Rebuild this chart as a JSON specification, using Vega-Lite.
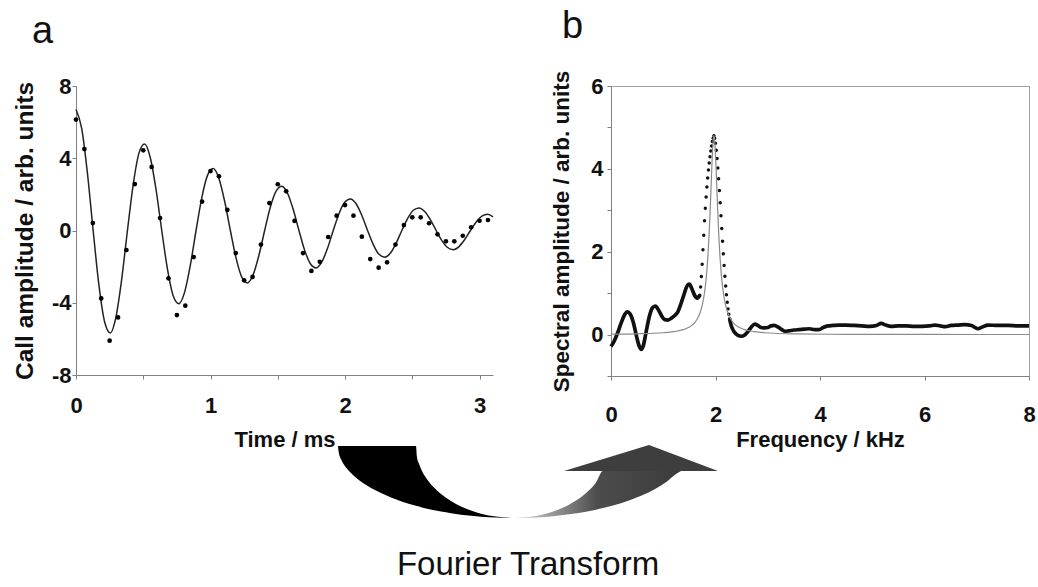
{
  "$schema": "https://vega.github.io/schema/vega-lite/v6.json",
  "background": "white",
  "padding": {"left": 12, "top": 7, "right": 4, "bottom": 2},
  "config": {
    "view": {"stroke": null},
    "font": "Liberation Sans",
    "axis": {
      "grid": false,
      "labelFont": "Liberation Sans",
      "titleFont": "Liberation Sans",
      "labelFontWeight": "bold",
      "titleFontWeight": "bold",
      "labelFontSize": 22,
      "titleFontSize": 22,
      "labelColor": "#111",
      "titleColor": "#111",
      "domainColor": "#808080",
      "tickColor": "#808080",
      "tickSize": 4,
      "labelFlush": false,
      "labelOverlap": false
    }
  },
  "datasets": {
    "aFit": [
      {"t": 0, "v": 6.70}, {"t": 0.0425, "v": 5.64}, {"t": 0.085, "v": 3.17}, {"t": 0.1275, "v": 0},
      {"t": 0.17, "v": -3.00}, {"t": 0.2125, "v": -5.05}, {"t": 0.255, "v": -5.67}, {"t": 0.2975, "v": -4.77},
      {"t": 0.34, "v": -2.68}, {"t": 0.3825, "v": 0}, {"t": 0.425, "v": 2.53}, {"t": 0.4675, "v": 4.27},
      {"t": 0.51, "v": 4.79}, {"t": 0.5525, "v": 4.03}, {"t": 0.595, "v": 2.27}, {"t": 0.6375, "v": 0},
      {"t": 0.68, "v": -2.14}, {"t": 0.7225, "v": -3.61}, {"t": 0.765, "v": -4.05}, {"t": 0.8075, "v": -3.41},
      {"t": 0.85, "v": -1.92}, {"t": 0.8925, "v": 0}, {"t": 0.935, "v": 1.81}, {"t": 0.9775, "v": 3.05},
      {"t": 1.02, "v": 3.43}, {"t": 1.0625, "v": 2.88}, {"t": 1.105, "v": 1.62}, {"t": 1.1475, "v": 0},
      {"t": 1.19, "v": -1.53}, {"t": 1.2325, "v": -2.58}, {"t": 1.275, "v": -2.90}, {"t": 1.3175, "v": -2.44},
      {"t": 1.36, "v": -1.37}, {"t": 1.4025, "v": 0}, {"t": 1.445, "v": 1.30}, {"t": 1.4875, "v": 2.18},
      {"t": 1.53, "v": 2.45}, {"t": 1.5725, "v": 2.06}, {"t": 1.615, "v": 1.16}, {"t": 1.6575, "v": 0},
      {"t": 1.70, "v": -1.10}, {"t": 1.7425, "v": -1.84}, {"t": 1.785, "v": -2.07}, {"t": 1.8275, "v": -1.74},
      {"t": 1.87, "v": -0.98}, {"t": 1.9125, "v": 0}, {"t": 1.955, "v": 0.93}, {"t": 1.9975, "v": 1.56},
      {"t": 2.04, "v": 1.75}, {"t": 2.0825, "v": 1.48}, {"t": 2.125, "v": 0.83}, {"t": 2.1675, "v": 0},
      {"t": 2.21, "v": -0.78}, {"t": 2.2525, "v": -1.32}, {"t": 2.295, "v": -1.48}, {"t": 2.3375, "v": -1.25},
      {"t": 2.38, "v": -0.70}, {"t": 2.4225, "v": 0}, {"t": 2.465, "v": 0.66}, {"t": 2.5075, "v": 1.12},
      {"t": 2.55, "v": 1.25}, {"t": 2.5925, "v": 1.05}, {"t": 2.635, "v": 0.59}, {"t": 2.6775, "v": 0},
      {"t": 2.72, "v": -0.56}, {"t": 2.7625, "v": -0.94}, {"t": 2.805, "v": -1.06}, {"t": 2.8475, "v": -0.89},
      {"t": 2.89, "v": -0.50}, {"t": 2.9325, "v": 0}, {"t": 2.975, "v": 0.47}, {"t": 3.0175, "v": 0.80},
      {"t": 3.06, "v": 0.90}, {"t": 3.1, "v": 0.76}
    ],
    "aPts": [
      {"t": 0, "v": 6.14}, {"t": 0.0625, "v": 4.51}, {"t": 0.125, "v": 0.41}, {"t": 0.1875, "v": -3.76},
      {"t": 0.25, "v": -6.10}, {"t": 0.3125, "v": -4.81}, {"t": 0.375, "v": -1.08}, {"t": 0.4375, "v": 2.57},
      {"t": 0.5, "v": 4.44}, {"t": 0.5625, "v": 3.52}, {"t": 0.625, "v": 0.69}, {"t": 0.6875, "v": -2.65},
      {"t": 0.75, "v": -4.68}, {"t": 0.8125, "v": -4.16}, {"t": 0.875, "v": -1.47}, {"t": 0.9375, "v": 1.60},
      {"t": 1.0, "v": 3.29}, {"t": 1.0625, "v": 3.00}, {"t": 1.125, "v": 1.14}, {"t": 1.1875, "v": -1.25},
      {"t": 1.25, "v": -2.76}, {"t": 1.3125, "v": -2.57}, {"t": 1.375, "v": -0.78}, {"t": 1.4375, "v": 1.52},
      {"t": 1.5, "v": 2.56}, {"t": 1.5625, "v": 2.17}, {"t": 1.625, "v": 0.53}, {"t": 1.6875, "v": -1.25},
      {"t": 1.75, "v": -2.24}, {"t": 1.8125, "v": -1.73}, {"t": 1.875, "v": -0.36}, {"t": 1.9375, "v": 0.82},
      {"t": 2.0, "v": 1.41}, {"t": 2.0625, "v": 0.82}, {"t": 2.125, "v": -0.34}, {"t": 2.1875, "v": -1.58},
      {"t": 2.25, "v": -2.06}, {"t": 2.3125, "v": -1.76}, {"t": 2.375, "v": -0.78}, {"t": 2.4375, "v": 0.30},
      {"t": 2.5, "v": 0.73}, {"t": 2.5625, "v": 0.73}, {"t": 2.625, "v": 0.40}, {"t": 2.6875, "v": -0.21},
      {"t": 2.75, "v": -0.60}, {"t": 2.8125, "v": -0.60}, {"t": 2.875, "v": -0.29}, {"t": 2.9375, "v": 0.18},
      {"t": 3.0, "v": 0.54}, {"t": 3.0625, "v": 0.58}
    ],
    "bLo": [
      {"f": 0, "v": -0.29}, {"f": 0.06, "v": -0.16}, {"f": 0.13, "v": 0.05}, {"f": 0.2, "v": 0.30},
      {"f": 0.26, "v": 0.48}, {"f": 0.31, "v": 0.55}, {"f": 0.37, "v": 0.49}, {"f": 0.43, "v": 0.28},
      {"f": 0.49, "v": -0.05}, {"f": 0.54, "v": -0.28}, {"f": 0.58, "v": -0.36}, {"f": 0.62, "v": -0.26},
      {"f": 0.67, "v": 0.05}, {"f": 0.73, "v": 0.42}, {"f": 0.79, "v": 0.64}, {"f": 0.85, "v": 0.69},
      {"f": 0.91, "v": 0.59}, {"f": 0.97, "v": 0.45}, {"f": 1.03, "v": 0.36}, {"f": 1.09, "v": 0.35},
      {"f": 1.16, "v": 0.40}, {"f": 1.22, "v": 0.46}, {"f": 1.28, "v": 0.55}, {"f": 1.34, "v": 0.75},
      {"f": 1.40, "v": 0.98}, {"f": 1.45, "v": 1.16}, {"f": 1.50, "v": 1.22}, {"f": 1.55, "v": 1.10},
      {"f": 1.60, "v": 0.95}, {"f": 1.65, "v": 0.88}, {"f": 1.70, "v": 0.95}
    ],
    "bPeak": [
      {"f": 1.700, "v": 0.95}, {"f": 1.715, "v": 1.15}, {"f": 1.730, "v": 1.40}, {"f": 1.745, "v": 1.70},
      {"f": 1.760, "v": 2.05}, {"f": 1.775, "v": 2.40}, {"f": 1.790, "v": 2.75}, {"f": 1.805, "v": 3.05},
      {"f": 1.820, "v": 3.32}, {"f": 1.835, "v": 3.56}, {"f": 1.850, "v": 3.78}, {"f": 1.865, "v": 3.97},
      {"f": 1.880, "v": 4.14}, {"f": 1.895, "v": 4.29}, {"f": 1.910, "v": 4.43}, {"f": 1.925, "v": 4.55},
      {"f": 1.940, "v": 4.66}, {"f": 1.955, "v": 4.74}, {"f": 1.970, "v": 4.80}, {"f": 1.985, "v": 4.74},
      {"f": 2.000, "v": 4.62}, {"f": 2.015, "v": 4.45}, {"f": 2.030, "v": 4.25}, {"f": 2.045, "v": 4.02},
      {"f": 2.060, "v": 3.76}, {"f": 2.075, "v": 3.48}, {"f": 2.090, "v": 3.18}, {"f": 2.105, "v": 2.87},
      {"f": 2.120, "v": 2.56}, {"f": 2.135, "v": 2.25}, {"f": 2.150, "v": 1.95}, {"f": 2.165, "v": 1.67},
      {"f": 2.180, "v": 1.41}, {"f": 2.195, "v": 1.17}, {"f": 2.210, "v": 0.96}, {"f": 2.225, "v": 0.78},
      {"f": 2.240, "v": 0.62}, {"f": 2.255, "v": 0.49}, {"f": 2.270, "v": 0.38}
    ],
    "bHi": [
      {"f": 2.27, "v": 0.38}, {"f": 2.30, "v": 0.22}, {"f": 2.36, "v": 0.06}, {"f": 2.43, "v": -0.02},
      {"f": 2.49, "v": -0.04}, {"f": 2.56, "v": -0.01}, {"f": 2.62, "v": 0.07}, {"f": 2.69, "v": 0.19},
      {"f": 2.75, "v": 0.25}, {"f": 2.81, "v": 0.22}, {"f": 2.87, "v": 0.17}, {"f": 2.94, "v": 0.16},
      {"f": 3.0, "v": 0.17}, {"f": 3.06, "v": 0.21}, {"f": 3.12, "v": 0.22}, {"f": 3.2, "v": 0.18},
      {"f": 3.27, "v": 0.12}, {"f": 3.33, "v": 0.08}, {"f": 3.4, "v": 0.09}, {"f": 3.5, "v": 0.11},
      {"f": 3.6, "v": 0.12}, {"f": 3.7, "v": 0.13}, {"f": 3.8, "v": 0.14}, {"f": 3.9, "v": 0.12},
      {"f": 3.98, "v": 0.12}, {"f": 4.06, "v": 0.17}, {"f": 4.15, "v": 0.21}, {"f": 4.25, "v": 0.22},
      {"f": 4.35, "v": 0.23}, {"f": 4.5, "v": 0.23}, {"f": 4.65, "v": 0.22}, {"f": 4.8, "v": 0.21},
      {"f": 4.95, "v": 0.20}, {"f": 5.08, "v": 0.22}, {"f": 5.17, "v": 0.27}, {"f": 5.26, "v": 0.23},
      {"f": 5.36, "v": 0.20}, {"f": 5.5, "v": 0.21}, {"f": 5.65, "v": 0.21}, {"f": 5.8, "v": 0.20},
      {"f": 5.95, "v": 0.20}, {"f": 6.1, "v": 0.21}, {"f": 6.2, "v": 0.23}, {"f": 6.3, "v": 0.21},
      {"f": 6.4, "v": 0.19}, {"f": 6.51, "v": 0.22}, {"f": 6.65, "v": 0.23}, {"f": 6.77, "v": 0.24},
      {"f": 6.9, "v": 0.22}, {"f": 6.97, "v": 0.17}, {"f": 7.02, "v": 0.14}, {"f": 7.1, "v": 0.18},
      {"f": 7.22, "v": 0.23}, {"f": 7.4, "v": 0.22}, {"f": 7.6, "v": 0.22}, {"f": 7.8, "v": 0.21},
      {"f": 8.0, "v": 0.21}
    ],
    "bFit": [
      {"f": 0, "v": 0.011}, {"f": 0.5, "v": 0.019}, {"f": 1.0, "v": 0.044}, {"f": 1.2, "v": 0.069},
      {"f": 1.4, "v": 0.124}, {"f": 1.5, "v": 0.181}, {"f": 1.6, "v": 0.285}, {"f": 1.65, "v": 0.374},
      {"f": 1.7, "v": 0.509}, {"f": 1.75, "v": 0.727}, {"f": 1.8, "v": 1.106}, {"f": 1.825, "v": 1.40},
      {"f": 1.85, "v": 1.801}, {"f": 1.88, "v": 2.48}, {"f": 1.9, "v": 3.065}, {"f": 1.92, "v": 3.72},
      {"f": 1.93, "v": 4.05}, {"f": 1.95, "v": 4.59}, {"f": 1.96, "v": 4.745}, {"f": 1.97, "v": 4.80},
      {"f": 1.98, "v": 4.745}, {"f": 1.99, "v": 4.59}, {"f": 2.01, "v": 4.05}, {"f": 2.02, "v": 3.72},
      {"f": 2.04, "v": 3.065}, {"f": 2.06, "v": 2.48}, {"f": 2.09, "v": 1.801}, {"f": 2.115, "v": 1.40},
      {"f": 2.14, "v": 1.106}, {"f": 2.19, "v": 0.727}, {"f": 2.24, "v": 0.509}, {"f": 2.29, "v": 0.374},
      {"f": 2.34, "v": 0.285}, {"f": 2.44, "v": 0.181}, {"f": 2.54, "v": 0.124}, {"f": 2.74, "v": 0.069},
      {"f": 2.94, "v": 0.044}, {"f": 3.5, "v": 0.018}, {"f": 4.5, "v": 0.0065}, {"f": 6, "v": 0.0026},
      {"f": 8, "v": 0.0013}
    ],
    "wedge": [
      {"x": 337, "top": 447, "bot": 447}, {"x": 337.5, "top": 447, "bot": 451.8}, {"x": 338, "top": 447, "bot": 454.7},
      {"x": 339, "top": 447, "bot": 458.0}, {"x": 340, "top": 447, "bot": 460.3}, {"x": 342, "top": 447, "bot": 464.2},
      {"x": 345, "top": 447, "bot": 468.5}, {"x": 350, "top": 447, "bot": 474.0}, {"x": 355, "top": 447, "bot": 478.7},
      {"x": 362, "top": 447, "bot": 484.0}, {"x": 370, "top": 447, "bot": 489.0}, {"x": 380, "top": 447, "bot": 494.0},
      {"x": 390, "top": 447, "bot": 498.5}, {"x": 402, "top": 447, "bot": 502.9}, {"x": 415, "top": 447, "bot": 506.8},
      {"x": 416, "top": 458.2, "bot": 507.1}, {"x": 418, "top": 464.7, "bot": 507.6}, {"x": 421, "top": 472.0, "bot": 508.4},
      {"x": 425, "top": 478.7, "bot": 509.4}, {"x": 432, "top": 487.6, "bot": 511.0}, {"x": 440, "top": 495.0, "bot": 512.5},
      {"x": 450, "top": 502.0, "bot": 514.2}, {"x": 460, "top": 507.6, "bot": 515.7}, {"x": 470, "top": 511.6, "bot": 516.8},
      {"x": 480, "top": 514.8, "bot": 517.7}, {"x": 495, "top": 517.6, "bot": 518.6}, {"x": 513, "top": 519, "bot": 519}
    ],
    "body": [
      {"x": 513, "top": 519, "bot": 519}, {"x": 530, "top": 517.8, "bot": 518.7}, {"x": 550, "top": 513.3, "bot": 517.4},
      {"x": 570, "top": 504.6, "bot": 515.1}, {"x": 585, "top": 494.0, "bot": 512.7}, {"x": 595, "top": 483.4, "bot": 510.7},
      {"x": 602, "top": 472, "bot": 509.1}, {"x": 620, "top": 472, "bot": 504.2}, {"x": 640, "top": 472, "bot": 496.8},
      {"x": 655, "top": 472, "bot": 489.5}, {"x": 665, "top": 472, "bot": 483.3}, {"x": 675, "top": 472, "bot": 475.1},
      {"x": 680, "top": 472, "bot": 472}
    ],
    "head": [
      {"x": 563, "top": 472, "bot": 472}, {"x": 648, "top": 446, "bot": 472}, {"x": 717, "top": 472, "bot": 472}
    ]
  },
  "spacing": -6,
  "vconcat": [
    {
      "spacing": 54,
      "hconcat": [
        {
          "width": 417,
          "height": 289,
          "title": {"text": "a", "anchor": "start", "frame": "group", "fontSize": 38, "fontWeight": "normal", "font": "Liberation Sans", "color": "#111", "dx": -44, "offset": 24},
          "layer": [
            {
              "data": {"name": "aFit"},
              "mark": {"type": "line", "color": "#222", "strokeWidth": 1.5, "interpolate": "monotone"},
              "encoding": {
                "x": {"field": "t", "type": "quantitative", "scale": {"domain": [0, 3.1], "nice": false, "zero": false},
                  "axis": {"title": "Time / ms", "values": [0, 0.5, 1, 1.5, 2, 2.5, 3], "labelExpr": "datum.value % 1 == 0 ? '' + datum.value : ''", "labelPadding": 16, "titlePadding": 13}},
                "y": {"field": "v", "type": "quantitative", "scale": {"domain": [-8, 8], "nice": false},
                  "axis": {"title": "Call amplitude / arb. units", "titleFontSize": 24.5, "values": [-8, -6, -4, -2, 0, 2, 4, 6, 8], "labelExpr": "datum.value % 4 == 0 ? '' + datum.value : ''", "labelPadding": 1, "titlePadding": 14}}
              }
            },
            {
              "data": {"name": "aPts"},
              "mark": {"type": "circle", "color": "#000", "size": 22, "opacity": 1},
              "encoding": {
                "x": {"field": "t", "type": "quantitative"},
                "y": {"field": "v", "type": "quantitative"}
              }
            }
          ]
        },
        {
          "width": 418,
          "height": 290,
          "view": {"stroke": "#a0a0a0", "strokeWidth": 1},
          "title": {"text": "b", "anchor": "start", "frame": "group", "fontSize": 38, "fontWeight": "normal", "font": "Liberation Sans", "color": "#111", "dx": -49, "offset": 24},
          "layer": [
            {
              "data": {"name": "bLo"},
              "mark": {"type": "line", "color": "#111", "strokeWidth": 3.7, "interpolate": "monotone"},
              "encoding": {
                "x": {"field": "f", "type": "quantitative", "scale": {"domain": [0, 8], "nice": false},
                  "axis": {"title": "Frequency / kHz", "values": [0, 2, 4, 6, 8], "labelExpr": "'' + datum.value", "labelPadding": 24, "titlePadding": 4}},
                "y": {"field": "v", "type": "quantitative", "scale": {"domain": [-1, 6], "nice": false},
                  "axis": {"title": "Spectral amplitude / arb. units", "titleFontSize": 22.5, "values": [-1, 0, 1, 2, 3, 4, 5, 6], "labelExpr": "datum.value % 2 == 0 ? '' + datum.value : ''", "labelPadding": 4, "titlePadding": 17}}
              }
            },
            {
              "data": {"name": "bHi"},
              "mark": {"type": "line", "color": "#111", "strokeWidth": 3.7, "interpolate": "monotone"},
              "encoding": {
                "x": {"field": "f", "type": "quantitative"},
                "y": {"field": "v", "type": "quantitative"}
              }
            },
            {
              "data": {"name": "bPeak"},
              "mark": {"type": "circle", "color": "#111", "size": 12, "opacity": 1},
              "encoding": {
                "x": {"field": "f", "type": "quantitative"},
                "y": {"field": "v", "type": "quantitative"}
              }
            },
            {
              "data": {"name": "bFit"},
              "mark": {"type": "line", "color": "#8a8a8a", "strokeWidth": 1.2, "interpolate": "monotone"},
              "encoding": {
                "x": {"field": "f", "type": "quantitative"},
                "y": {"field": "v", "type": "quantitative"}
              }
            }
          ]
        }
      ]
    },
    {
      "width": 1000,
      "height": 115,
      "layer": [
        {
          "data": {"name": "wedge"},
          "mark": {"type": "area", "color": "#000", "opacity": 1, "interpolate": "monotone"},
          "encoding": {
            "x": {"field": "x", "type": "quantitative", "scale": {"domain": [75, 1075], "nice": false, "zero": false}, "axis": null},
            "y": {"field": "top", "type": "quantitative", "scale": {"domain": [465, 580], "reverse": true, "nice": false, "zero": false}, "axis": null},
            "y2": {"field": "bot"}
          }
        },
        {
          "data": {"name": "body"},
          "mark": {"type": "area", "opacity": 1, "interpolate": "monotone", "color": {"gradient": "linear", "x1": 0, "y1": 0, "x2": 1, "y2": 0, "stops": [{"offset": 0, "color": "#d4d4d4"}, {"offset": 0.2, "color": "#a0a0a0"}, {"offset": 0.5, "color": "#4c4c4c"}, {"offset": 1, "color": "#3c3c3c"}]}},
          "encoding": {
            "x": {"field": "x", "type": "quantitative"},
            "y": {"field": "top", "type": "quantitative"},
            "y2": {"field": "bot"}
          }
        },
        {
          "data": {"name": "head"},
          "mark": {"type": "area", "color": "#3e3e3e", "opacity": 1},
          "encoding": {
            "x": {"field": "x", "type": "quantitative"},
            "y": {"field": "top", "type": "quantitative"},
            "y2": {"field": "bot"}
          }
        },
        {
          "data": {"values": [{"x": 527, "y": 566, "label": "Fourier Transform"}]},
          "mark": {"type": "text", "fontSize": 33, "font": "Liberation Sans", "color": "#111", "baseline": "middle", "align": "center"},
          "encoding": {
            "x": {"field": "x", "type": "quantitative"},
            "y": {"field": "y", "type": "quantitative"},
            "text": {"field": "label"}
          }
        }
      ]
    }
  ]
}
